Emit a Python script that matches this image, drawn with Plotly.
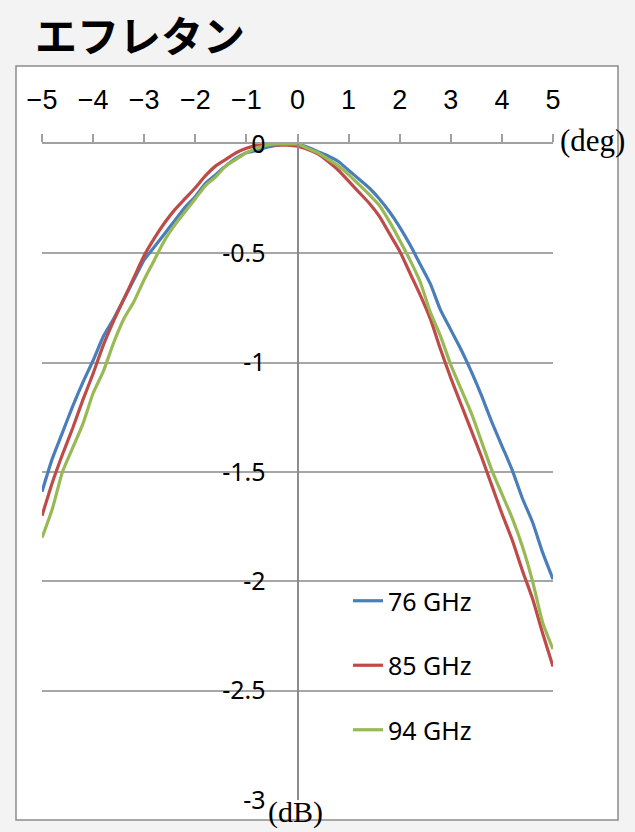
import plotly.graph_objects as go

# angle (deg)
angles = [round(-5 + 0.2 * i, 1) for i in range(51)]

gain_76 = [-1.59, -1.44, -1.32, -1.20, -1.09, -0.99, -0.88, -0.80, -0.71, -0.62,
           -0.53, -0.47, -0.41, -0.35, -0.29, -0.24, -0.18, -0.14, -0.10, -0.065,
           -0.04, -0.03, -0.015, -0.005, 0.0, 0.0, -0.015, -0.035, -0.055, -0.08,
           -0.12, -0.16, -0.20, -0.25, -0.31, -0.38, -0.46, -0.55, -0.64, -0.76,
           -0.85, -0.94, -1.04, -1.15, -1.27, -1.38, -1.49, -1.62, -1.73, -1.87,
           -1.99]

gain_85 = [-1.70, -1.55, -1.42, -1.30, -1.17, -1.05, -0.92, -0.81, -0.71, -0.61,
           -0.51, -0.43, -0.36, -0.30, -0.25, -0.20, -0.145, -0.10, -0.07, -0.04,
           -0.02, -0.005, 0.0, -0.005, -0.005, -0.01, -0.025, -0.045, -0.08, -0.12,
           -0.17, -0.22, -0.27, -0.33, -0.41, -0.49, -0.59, -0.69, -0.80, -0.94,
           -1.07, -1.19, -1.31, -1.43, -1.56, -1.69, -1.81, -1.95, -2.08, -2.24,
           -2.39]

gain_94 = [-1.80, -1.67, -1.50, -1.39, -1.28, -1.14, -1.04, -0.91, -0.80, -0.72,
           -0.62, -0.53, -0.44, -0.37, -0.31, -0.25, -0.19, -0.15, -0.10, -0.07,
           -0.04, -0.02, -0.005, 0.0, 0.0, 0.0, -0.02, -0.04, -0.07, -0.10,
           -0.14, -0.185, -0.23, -0.28, -0.355, -0.44, -0.53, -0.63, -0.77, -0.88,
           -1.01, -1.12, -1.23, -1.36, -1.49, -1.60, -1.71, -1.84, -2.00, -2.19,
           -2.31]

series_names = ["76 GHz", "85 GHz", "94 GHz"]
series_colors = ["#4a7ebb", "#be4b48", "#98b954"]
series_values = [gain_76, gain_85, gain_94]

x_ticks = [-5, -4, -3, -2, -1, 0, 1, 2, 3, 4, 5]
y_ticks = [0, -0.5, -1, -1.5, -2, -2.5, -3]
y_tick_text = ["0", "-0.5", "-1", "-1.5", "-2", "-2.5", "-3"]

W, H = 635, 832
L, R, T, B = 42, 82, 144, 32
pw, ph = W - L - R, H - T - B


def px_x(px):
    return (px - L) / pw


def px_y(py):
    return (H - B - py) / ph


fig = go.Figure()
for name, color, vals in zip(series_names, series_colors, series_values):
    fig.add_trace(go.Scatter(
        x=angles, y=vals, mode="lines", name=name, legendgroup=name,
        line=dict(color=color, width=3.2, shape="spline", smoothing=0.6),
    ))

fig.update_layout(
    width=W, height=H,
    margin=dict(l=L, r=R, t=T, b=B),
    paper_bgcolor="#f3f3f3",
    plot_bgcolor="white",
    showlegend=True,
    legend=dict(
        x=px_x(348), y=px_y(578), xanchor="left", yanchor="top",
        bgcolor="rgba(0,0,0,0)", traceorder="grouped", tracegroupgap=29,
        font=dict(family="Noto Sans", size=25, color="black"),
    ),
    xaxis=dict(
        range=[-5, 5], side="top", anchor="y",
        tickvals=x_ticks, ticks="outside", ticklen=8, tickwidth=1.5,
        tickcolor="#a0a0a0", showline=True, linecolor="#a0a0a0", linewidth=2,
        showgrid=False, zeroline=False, ticklabelstandoff=14,
        tickfont=dict(family="Liberation Sans", size=27, color="black"),
    ),
    yaxis=dict(
        range=[-3, 0], anchor="free", position=0.5,
        tickvals=y_ticks, ticktext=y_tick_text, ticks="",
        showline=True, linecolor="#8c8c8c", linewidth=2,
        showgrid=True, gridcolor="#a6a6a6", gridwidth=1.5, zeroline=False,
        ticklabelstandoff=26,
        tickfont=dict(family="Noto Sans", size=25, color="black"),
    ),
    shapes=[dict(
        type="rect", xref="paper", yref="paper", layer="below",
        x0=px_x(16), x1=px_x(618), y0=px_y(820), y1=px_y(66),
        fillcolor="white", line=dict(color="#8c8c8c", width=1.5),
    )],
    annotations=[
        dict(text="<b>エフレタン</b>", xref="paper", yref="paper",
             x=px_x(33), y=px_y(34), xanchor="left", yanchor="middle",
             showarrow=False,
             font=dict(family="Noto Sans CJK JP", size=42, color="black")),
        dict(text="(deg)", xref="paper", yref="paper",
             x=px_x(558), y=px_y(141), xanchor="left", yanchor="middle",
             showarrow=False,
             font=dict(family="Liberation Serif", size=31, color="black")),
        dict(text="(dB)", xref="paper", yref="paper",
             x=px_x(295), y=px_y(812), xanchor="center", yanchor="middle",
             showarrow=False,
             font=dict(family="Liberation Serif", size=30, color="black")),
    ],
)

fig.write_html("out.html")
